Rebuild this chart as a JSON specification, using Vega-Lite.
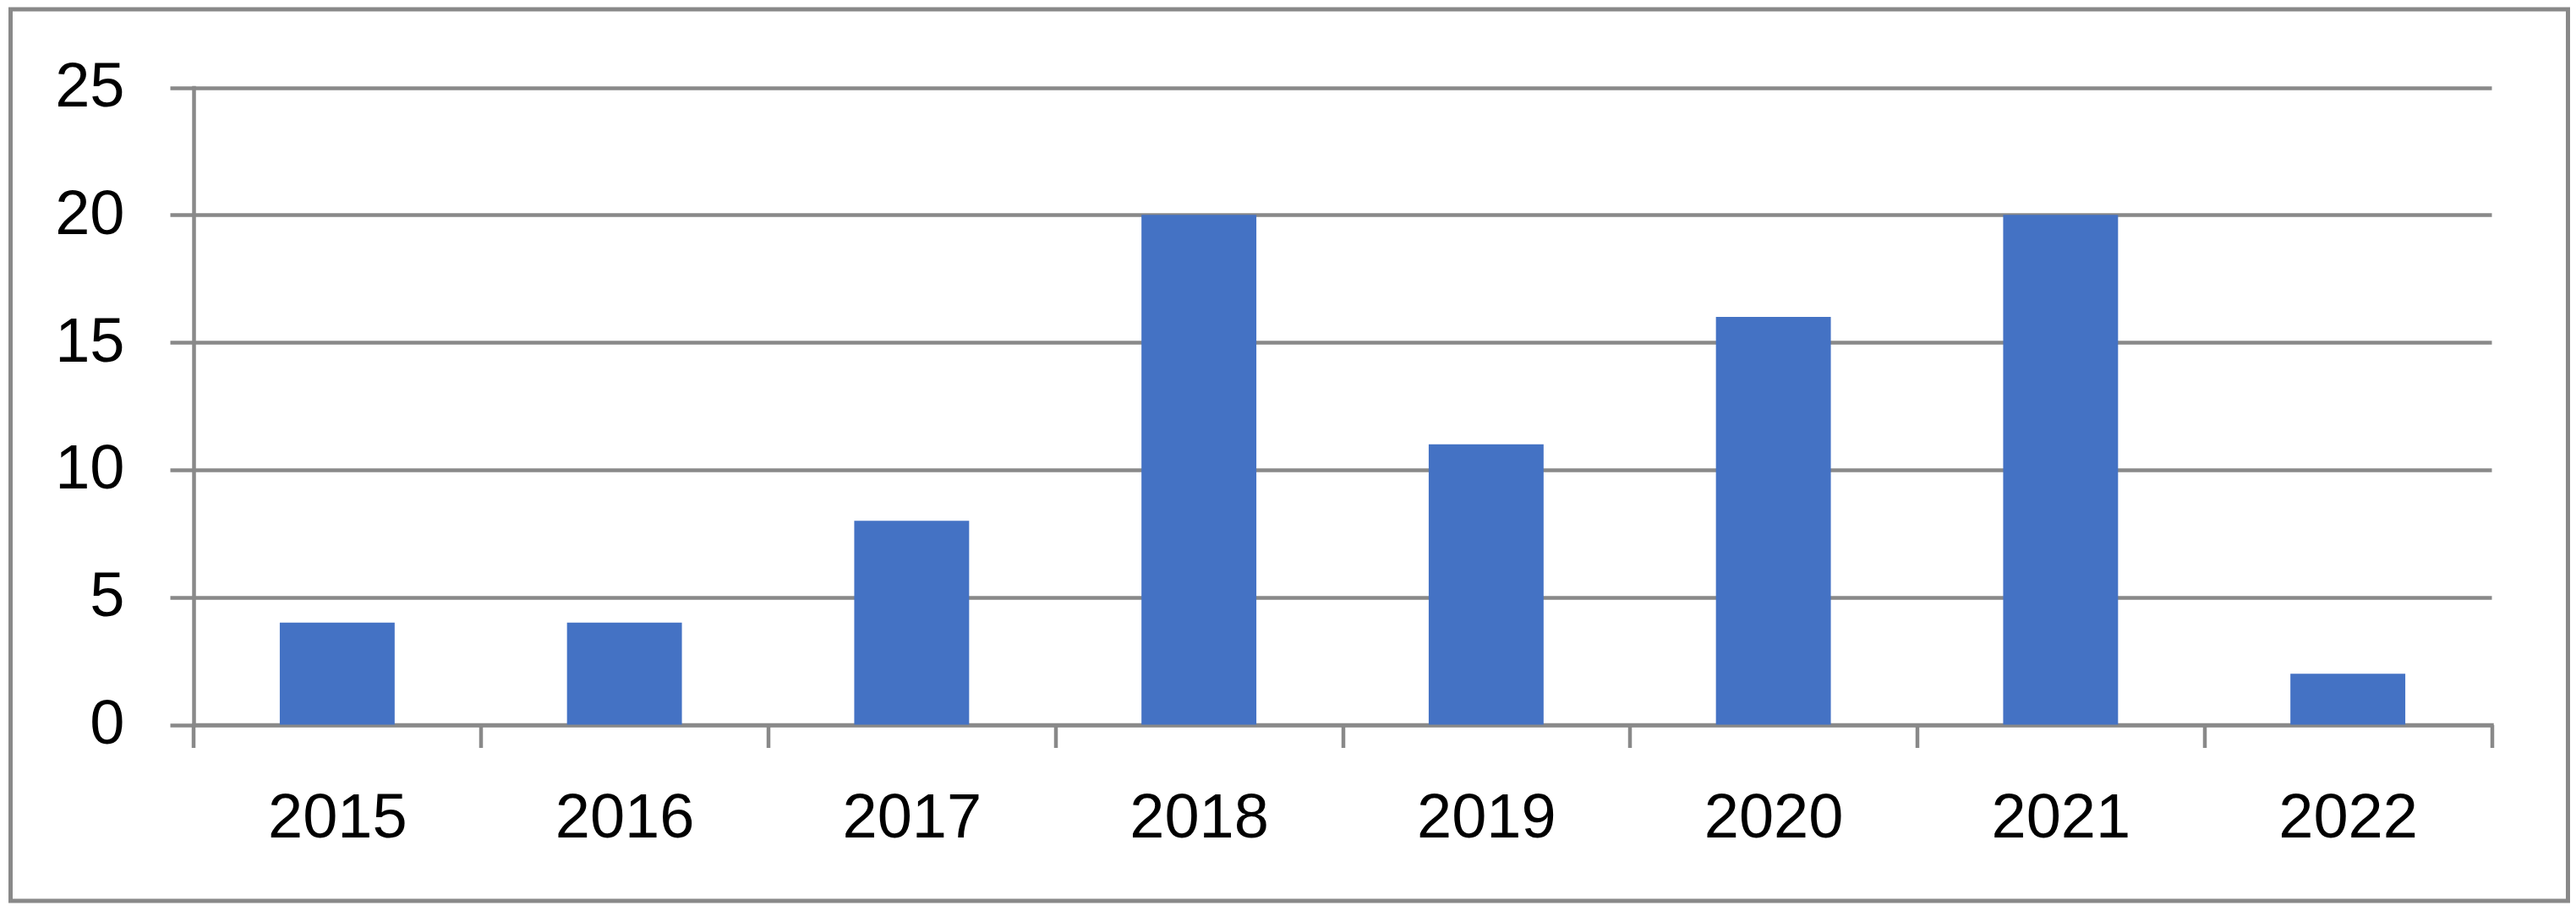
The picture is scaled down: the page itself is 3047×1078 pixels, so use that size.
{
  "$schema": "https://vega.github.io/schema/vega-lite/v6.json",
  "autosize": {"type": "none"},
  "width": 3025,
  "height": 1055,
  "padding": {"left": 12.5, "top": 11, "right": 9.5, "bottom": 12},
  "background": "white",
  "config": {
    "view": {"stroke": "#898989", "strokeWidth": 5, "fill": "white"},
    "axis": {
      "labelFont": "Liberation Sans",
      "labelFontSize": 74,
      "labelColor": "#000000",
      "domainColor": "#898989",
      "domainWidth": 4.5,
      "tickColor": "#898989",
      "tickWidth": 4.5,
      "gridColor": "#898989",
      "gridWidth": 4.5,
      "gridOpacity": 1,
      "domainCap": "square"
    }
  },
  "data": {
    "values": [
      {"year": "2015", "count": 4},
      {"year": "2016", "count": 4},
      {"year": "2017", "count": 8},
      {"year": "2018", "count": 20},
      {"year": "2019", "count": 11},
      {"year": "2020", "count": 16},
      {"year": "2021", "count": 20},
      {"year": "2022", "count": 2}
    ]
  },
  "mark": {"type": "bar", "color": "#4472C4"},
  "encoding": {
    "x": {
      "field": "year",
      "type": "nominal",
      "sort": null,
      "scale": {"range": [216.5, 2934.5], "paddingInner": 0.6, "paddingOuter": 0.3},
      "axis": {
        "title": null,
        "orient": "bottom",
        "offset": -208.5,
        "labelAngle": 0,
        "bandPosition": 2.5,
        "tickExtra": true,
        "tickOffset": -101.925,
        "labelOffset": 101.925,
        "tickSize": 27,
        "labelPadding": 47.5,
        "grid": false
      }
    },
    "y": {
      "field": "count",
      "type": "quantitative",
      "scale": {"domain": [0, 25], "nice": false, "range": [846.5, 92.5]},
      "axis": {
        "title": null,
        "orient": "left",
        "offset": -216.5,
        "values": [0, 5, 10, 15, 20, 25],
        "tickSize": 28,
        "labelPadding": 54,
        "grid": true
      }
    }
  }
}
